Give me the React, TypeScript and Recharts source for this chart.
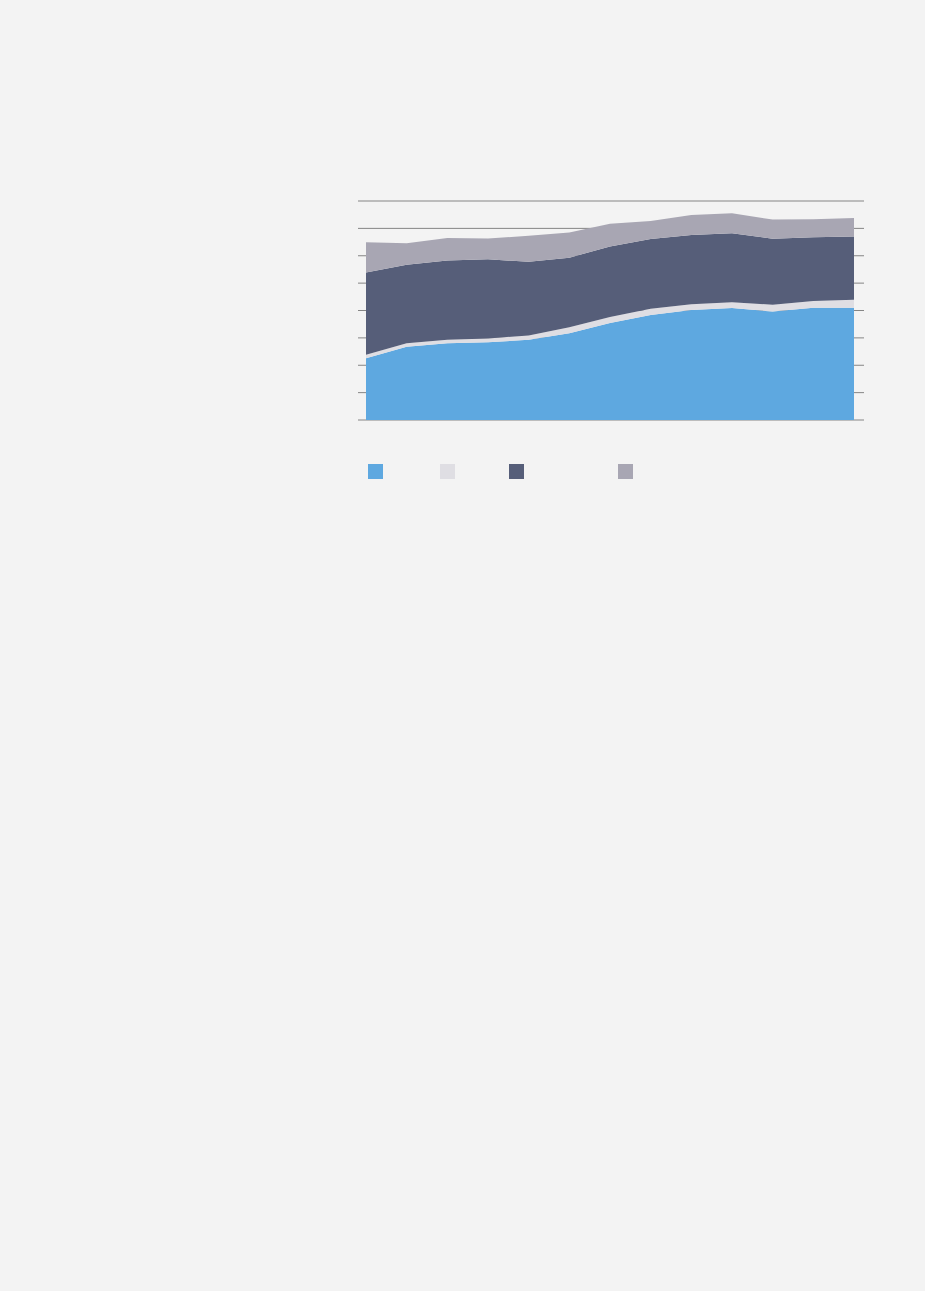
import { AreaChart, Area, XAxis, YAxis, CartesianGrid, Legend } from "recharts";

// 13 periods, no labels shown in the source image
const periods = ["p1", "p2", "p3", "p4", "p5", "p6", "p7", "p8", "p9", "p10", "p11", "p12", "p13"];

const blueSeries = [2.26, 2.68, 2.8, 2.84, 2.93, 3.17, 3.54, 3.84, 4.02, 4.09, 3.96, 4.1, 4.1];
const lightSeries = [0.12, 0.12, 0.13, 0.14, 0.16, 0.22, 0.22, 0.22, 0.21, 0.21, 0.25, 0.25, 0.29];
const darkSeries = [3.01, 2.87, 2.9, 2.89, 2.69, 2.54, 2.58, 2.55, 2.53, 2.52, 2.41, 2.33, 2.31];
const graySeries = [1.1, 0.79, 0.82, 0.76, 0.95, 0.92, 0.83, 0.66, 0.73, 0.73, 0.7, 0.65, 0.68];

const yTicks = [0, 1, 2, 3, 4, 5, 6, 7, 8];

const COLORS = {
  blue: "#5ea8e0",
  light: "#dfdee3",
  dark: "#565e79",
  gray: "#a8a6b3",
};

const data = periods.map((p, i) => ({
  period: p,
  blue: blueSeries[i],
  light: lightSeries[i],
  dark: darkSeries[i],
  gray: graySeries[i],
}));

const legendItems = [
  { key: "blue", color: COLORS.blue, gap: 0 },
  { key: "light", color: COLORS.light, gap: 57 },
  { key: "dark", color: COLORS.dark, gap: 54 },
  { key: "gray", color: COLORS.gray, gap: 94 },
];

function SquareLegend() {
  return (
    <div style={{ display: "flex", paddingLeft: 368 }}>
      {legendItems.map((it) => (
        <span
          key={it.key}
          style={{
            display: "inline-block",
            width: 15,
            height: 15,
            background: it.color,
            marginLeft: it.gap,
          }}
        />
      ))}
    </div>
  );
}

export default function App() {
  return (
    <div
      style={{
        position: "absolute",
        left: 0,
        top: 0,
        width: 925,
        height: 1291,
        background: "#f3f3f3",
      }}
    >
      <AreaChart
        width={925}
        height={500}
        data={data}
        margin={{ top: 201, right: 61, left: 358, bottom: 65 }}
      >
        <CartesianGrid horizontal vertical={false} stroke="#858585" strokeWidth={1} />
        <XAxis dataKey="period" hide padding={{ left: 8, right: 10 }} />
        <YAxis hide domain={[0, 8]} ticks={yTicks} />
        <Legend
          content={<SquareLegend />}
          wrapperStyle={{ top: 464, left: 0, width: 925 }}
        />
        <Area type="linear" dataKey="blue" stackId="a" stroke="none" fill={COLORS.blue} fillOpacity={1} isAnimationActive={false} />
        <Area type="linear" dataKey="light" stackId="a" stroke="none" fill={COLORS.light} fillOpacity={1} isAnimationActive={false} />
        <Area type="linear" dataKey="dark" stackId="a" stroke="none" fill={COLORS.dark} fillOpacity={1} isAnimationActive={false} />
        <Area type="linear" dataKey="gray" stackId="a" stroke="none" fill={COLORS.gray} fillOpacity={1} isAnimationActive={false} />
      </AreaChart>
    </div>
  );
}
